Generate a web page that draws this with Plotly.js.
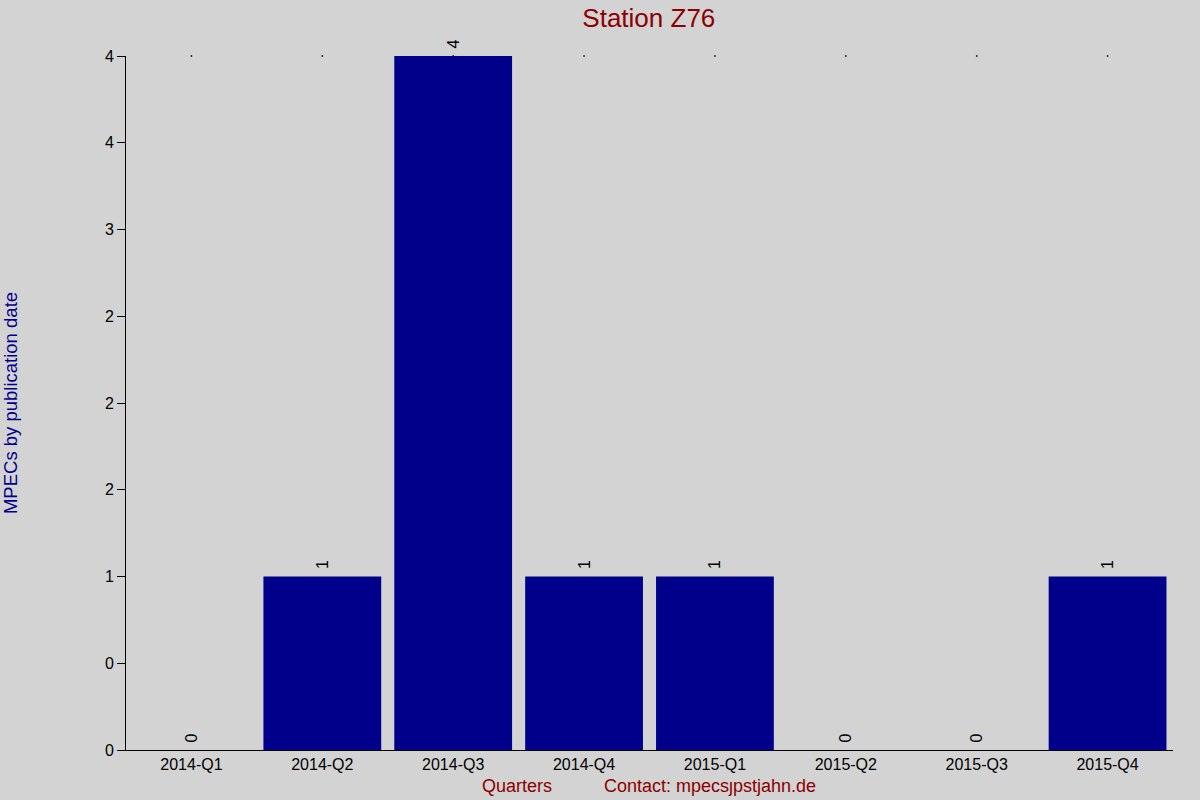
<!DOCTYPE html>
<html>
<head>
<meta charset="utf-8">
<script src="https://cdn.plot.ly/plotly-3.0.1.min.js"></script>
<style>html,body{margin:0;padding:0;background:#d3d3d3;}#chart{width:1200px;height:800px;}</style>
</head>
<body>
<div id="chart"></div>
<script>
const categories = ["2014-Q1","2014-Q2","2014-Q3","2014-Q4","2015-Q1","2015-Q2","2015-Q3","2015-Q4"];
const values = [0,1,4,1,1,0,0,1];
const yTickVals = [0,0.5,1,1.5,2,2.5,3,3.5,4];
const yTickText = ["0","0","1","2","2","2","3","4","4"];
const titleText = "Station Z76";
const yTitle = "MPECs by publication date";
const xTitle = "Quarters";
const contactText = "Contact: mpecs\u0237pstjahn.de";

const yMax = Math.max(...values);
const topMarks = categories.map(() => yMax);

const font = "Liberation Sans, Arial, sans-serif";

const traces = [
  {
    type: "bar",
    x: categories,
    y: values,
    marker: {color: "#00008b", line: {width: 0}},
    text: values.map(v => "\u00a0" + String(v)),
    textposition: "outside",
    textangle: -90,
    textfont: {family: font, size: 16, color: "#000000"},
    cliponaxis: false,
    hoverinfo: "x+y"
  },
  {
    type: "scatter",
    mode: "markers",
    x: categories,
    y: topMarks,
    marker: {color: "#000000", size: 1.5, symbol: "square"},
    cliponaxis: false,
    hoverinfo: "skip"
  }
];

const layout = {
  width: 1200,
  height: 800,
  paper_bgcolor: "#d3d3d3",
  plot_bgcolor: "#d3d3d3",
  showlegend: false,
  bargap: 0.1,
  margin: {l: 126, r: 27, t: 56, b: 50},
  font: {family: font, size: 16, color: "#000000"},
  title: {
    text: titleText,
    font: {family: font, size: 26, color: "#8b0000"},
    x: 0.5407, xanchor: "center",
    y: 0.978, yanchor: "middle"
  },
  xaxis: {
    type: "category",
    showline: true,
    linecolor: "#000000",
    linewidth: 1,
    ticks: "",
    showgrid: false,
    zeroline: false,
    tickfont: {family: font, size: 16, color: "#000000"},
    range: [-0.5, categories.length - 0.5]
  },
  yaxis: {
    range: [0, yMax],
    tickvals: yTickVals,
    ticktext: yTickText,
    ticks: "outside",
    ticklen: 8,
    tickcolor: "#000000",
    showline: true,
    linecolor: "#000000",
    linewidth: 1,
    showgrid: false,
    zeroline: false,
    tickfont: {family: font, size: 16, color: "#000000"},
    title: {text: yTitle, font: {family: font, size: 18.5, color: "#00008b"}, standoff: 84}
  },
  annotations: [
    {xref: "paper", yref: "paper", x: 0.373, y: -0.052, xanchor: "center", yanchor: "middle",
     text: xTitle, showarrow: false, font: {family: font, size: 18, color: "#8b0000"}},
    {xref: "paper", yref: "paper", x: 0.558, y: -0.052, xanchor: "center", yanchor: "middle",
     text: contactText, showarrow: false, font: {family: font, size: 18, color: "#8b0000"}}
  ]
};

Plotly.newPlot("chart", traces, layout, {displayModeBar: false, staticPlot: true});
</script>
</body>
</html>
